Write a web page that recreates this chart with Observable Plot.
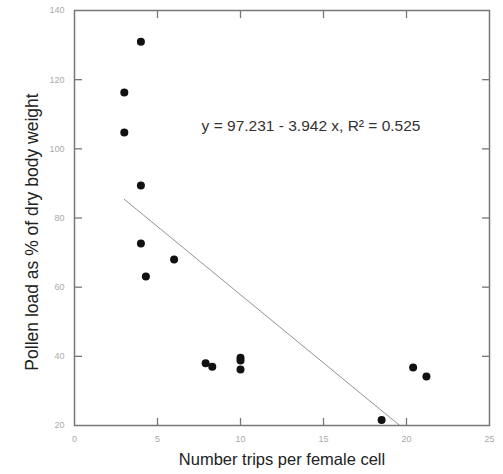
<!DOCTYPE html>
<html>
<head>
<meta charset="utf-8">
<script src="https://cdn.jsdelivr.net/npm/d3@7"></script>
<script src="https://cdn.jsdelivr.net/npm/@observablehq/plot@0.6"></script>
<style>
  html, body { margin: 0; padding: 0; background: #fff; }
  svg { display: block; }
</style>
</head>
<body>
<div id="chart"></div>
<script>
const trips = [3, 3, 4, 4, 4, 4.3, 6, 7.9, 8.3, 10, 10, 10, 18.5, 20.4, 21.2];
const pollen = [116.3, 104.7, 131, 89.4, 72.6, 63.1, 68, 38.0, 37.0, 39.6, 38.8, 36.2, 21.6, 36.8, 34.2];
const xTicks = [0, 5, 10, 15, 20, 25];
const yTicks = [20, 40, 60, 80, 100, 120, 140];
const intercept = 97.231;
const slope = -3.942;
const fitX = [3, (20 - intercept) / slope];
const equation = "y = 97.231 - 3.942 x, R² = 0.525";
const xLabel = "Number trips per female cell";
const yLabel = "Pollen load as % of dry body weight";

const points = trips.map((t, i) => ({x: t, y: pollen[i]}));
const fit = fitX.map(x => ({x, y: intercept + slope * x}));
const innerX = xTicks.slice(1, -1);
const innerY = yTicks.slice(1, -1);

const chart = Plot.plot({
  width: 503,
  height: 474,
  marginLeft: 74,
  marginRight: 14,
  marginTop: 10,
  marginBottom: 49,
  style: {fontFamily: "Liberation Sans, Arial, sans-serif", background: "#fff"},
  x: {domain: [0, 25]},
  y: {domain: [20, 140]},
  marks: [
    Plot.axisX(xTicks, {anchor: "bottom", tickSize: 0, tickPadding: 10, fontSize: 9, fill: "#aaa", label: null}),
    Plot.axisY(yTicks, {anchor: "left", tickSize: 0, tickPadding: 10, fontSize: 9, fill: "#aaa", label: null}),
    // inward tick marks on all four sides
    Plot.link(innerX, {x1: d => d, x2: d => d, y1: () => 20, y2: () => 22.2, stroke: "#777", strokeWidth: 1.3}),
    Plot.link(innerX, {x1: d => d, x2: d => d, y1: () => 140, y2: () => 137.8, stroke: "#777", strokeWidth: 1.3}),
    Plot.link(innerY, {y1: d => d, y2: d => d, x1: () => 0, x2: () => 0.45, stroke: "#777", strokeWidth: 1.3}),
    Plot.link(innerY, {y1: d => d, y2: d => d, x1: () => 25, x2: () => 24.55, stroke: "#777", strokeWidth: 1.3}),
    Plot.frame({stroke: "#777", strokeWidth: 1.5}),
    Plot.line(fit, {x: "x", y: "y", stroke: "#777", strokeWidth: 0.8}),
    Plot.dot(points, {x: "x", y: "y", r: 4, fill: "#111", stroke: "none"}),
    Plot.text([equation], {x: 14.25, y: 106.5, text: d => d, fontSize: 15.5, fill: "#333", textAnchor: "middle"}),
    Plot.text([xLabel], {frameAnchor: "bottom", dy: 39, text: d => d, fontSize: 16.5, fill: "#222", textAnchor: "middle"}),
    Plot.text([yLabel], {frameAnchor: "left", dx: -42, dy: 14, rotate: -90, text: d => d, fontSize: 17.5, fill: "#222", textAnchor: "middle"})
  ]
});
document.getElementById("chart").appendChild(chart);
</script>
</body>
</html>
